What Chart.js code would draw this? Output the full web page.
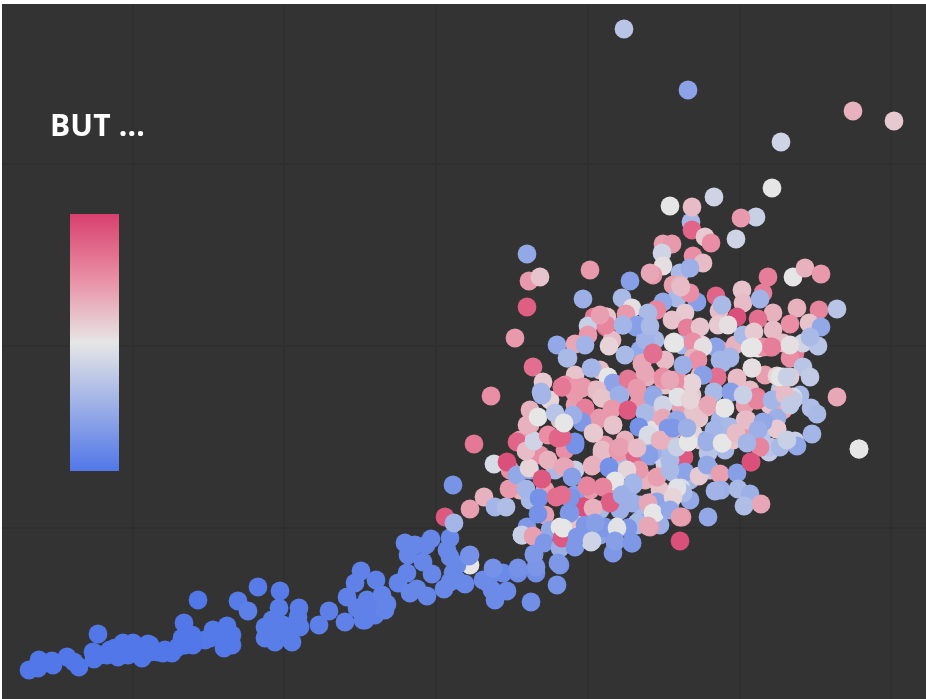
<!DOCTYPE html>
<html>
<head>
<meta charset="utf-8">
<script src="https://cdn.jsdelivr.net/npm/chart.js@4"></script>
<style>
  html, body { margin: 0; padding: 0; background: #fff; overflow: hidden; }
  #panel { position: absolute; left: 2px; top: 4px; width: 924px; height: 695px; background: #333; }
  #headline { position: absolute; left: 48px; top: 100px; color: #fff; font: bold 30px "Open Sans", sans-serif; letter-spacing: 0.2px; }
  #colorbar { position: absolute; left: 68px; top: 210px; width: 49px; height: 257px;
    background: linear-gradient(to bottom, #d8406f, #e98ea4 25%, #e6e6e6 50%, #5177e8); }
</style>
</head>
<body>
<div id="panel">
  <canvas id="scatter" width="924" height="695"></canvas>
  <div id="headline">BUT ...</div>
  <div id="colorbar"></div>
</div>
<script>
// Grid positions, the picture has no tick labels
const xTicks = [131, 282, 434, 586, 738, 889];
const yTicks = [171, 353, 535];

// Each point is [x, y, level], level runs 0 (blue) to 100 (pink)
const tailPoints = [
  [108,49,0],[123,49,0],[138,49,0],[98,44,0],[148,54,0],[163,49,0],[183,54,0],[203,59,1],[218,67,1],[268,69,3],
  [283,64,3],[358,89,5],[373,94,6],[363,79,5],
  [27,29,0],[37,39,0],[36,31,0],[50,38,0],[51,34,0],[65,42,0],[77,32,0],[72,37,0],[92,40,0],[91,47,0],
  [96,65,0],[105,44,0],[113,51,0],[116,42,0],[121,56,0],[126,44,0],[131,56,0],[131,47,0],[140,41,0],[146,55,0],
  [148,47,0],[156,47,0],[161,46,0],[170,46,0],[176,52,0],[182,76,0],[180,61,0],[190,64,0],[191,54,0],[196,99,0],
  [208,61,1],[211,69,1],[222,51,1],[225,73,1],[230,64,1],[230,54,1],[236,98,2],[246,88,4],[256,112,2],[278,108,2],
  [277,91,3],[297,91,3],[263,72,3],[270,79,3],[281,74,3],[263,61,3],[273,57,3],[290,57,3],[298,72,3],[296,82,3],
  [288,67,3],[276,67,3],[317,74,4],[327,88,4],[343,77,5],[345,102,5],[353,116,5],[359,128,5],[355,91,5],[361,79,5],
  [365,99,5],[374,119,5],[373,84,5],[370,92,5],[383,89,6],[380,104,6],[385,95,6],[396,116,6],[405,126,6],[408,106,7],
  [415,110,7],[425,103,7],[430,125,7],[421,137,7],[406,144,7],[403,156,7],[413,154,7],[424,154,7],[429,160,7],[468,134,50],
  [445,149,8],[448,161,8],[448,142,8],[455,134,8],[468,144,14],[443,182,92],[452,176,28],[442,110,8],[455,119,8],[448,117,8],
  [463,115,8],[451,126,8],[486,116,9],[493,99,9],[491,126,9],[501,126,9],[505,108,9],[490,109,9],[516,126,10],[534,126,11],
  [529,97,11],[532,144,14],[481,119,9],[451,214,13],[555,114,13],[558,134,13]
];

const backCluster = [
  [518,259,70],[508,229,75],[518,209,65],[528,199,30],[543,209,70],[553,229,30],[563,249,75],[573,229,40],[558,279,62],[573,294,70],
  [588,279,60],[603,254,72],[588,209,72],[573,204,18],[598,189,30],[618,189,25],[638,179,22],[653,219,30],[663,234,60],[643,219,65],
  [618,234,30],[623,259,65],[648,284,62],[618,309,68],[598,304,70],[638,299,25],[663,314,60],[678,309,30],[698,289,65],[718,279,28],
  [733,269,55],[698,259,60],[678,244,70],[688,219,28],[708,229,35],[723,249,30],[743,294,70],[698,324,65],[718,349,70],[733,354,65],
  [653,359,30],[663,339,62],[638,349,22],[623,344,30],[598,329,62],[573,324,60],[548,299,55],[563,314,75],[528,274,68],[538,244,75],
  [528,229,20],[543,184,70],[548,169,22],[573,179,60],[598,164,20],[638,194,30],[658,174,25],[768,294,60],[763,324,70],[748,309,62],
  [778,309,35],[798,304,30]
];

const lowerCluster = [
  [467,143,12],[491,131,12],[516,131,12],[534,132,14],[520,164,52],[525,172,15],[520,164,40],[531,163,70],[542,156,15],[558,172,50],
  [558,151,25],[560,161,92],[532,145,15],[556,136,15],[573,152,15],[569,201,12],[567,186,15],[581,192,95],[585,213,78],[590,233,65],
  [607,231,12],[613,218,50],[604,211,75],[608,196,88],[620,204,27],[630,196,25],[600,249,62],[592,266,58],[583,291,80],[580,277,15],
  [573,283,25],[597,281,72],[600,301,60],[611,274,60],[626,289,92],[637,272,12],[617,247,72],[633,244,88],[648,243,18],[637,229,72],
  [628,229,55],[631,214,28],[651,197,22],[590,177,18],[603,171,15],[583,174,15],[589,157,42],[613,157,20],[611,146,15],[626,171,15],
  [635,174,30],[646,173,68],[630,156,12],[615,172,48],[636,294,70],[616,304,22],[651,302,22],[573,306,72],[472,255,82],[492,235,45],
  [505,237,95],[515,257,88],[468,190,70],[482,202,65],[493,192,28],[504,192,32],[507,210,72],[515,224,22],[524,210,28],[527,231,55],
  [524,248,62],[532,258,42],[528,289,65],[525,274,65],[536,282,50],[553,286,35],[540,304,28],[546,264,75],[556,261,88],[573,256,12],
  [540,220,92],[546,239,65],[561,232,68],[537,201,12],[554,202,85],[536,185,12]
];

const upperCluster = [
  [525,445,22],[527,418,72],[538,422,60],[525,392,90],[513,361,72],[588,429,72],[581,400,25],[650,425,70],[592,382,82],[604,382,60],
  [586,373,40],[604,372,85],[586,364,72],[555,354,22],[573,355,68],[583,354,27],[610,359,62],[607,353,55],[621,374,28],[634,372,18],
  [646,369,28],[643,359,27],[655,390,78],[566,341,30],[531,332,85],[589,331,28],[606,322,50],[611,316,20],[626,319,82],[651,346,85],
  [640,335,68],[645,322,65],[635,309,75],[541,317,58],[539,307,28],[560,312,80],[573,311,72],[581,312,72],[593,309,65],[601,304,62],
  [618,304,30],[651,304,22],[489,303,75],[628,418,18],[620,401,30],[630,391,52],[624,385,72],[661,455,70],[670,455,72],[660,446,42],
  [661,433,52],[691,443,75],[701,436,62],[678,426,30],[688,431,25],[651,424,72],[648,426,68],[671,414,70],[678,414,65],[675,401,30],
  [661,397,22],[695,397,18],[688,406,75],[714,403,88],[717,388,62],[720,394,30],[740,409,60],[741,396,62],[735,382,95],[655,389,78],
  [683,386,58],[670,379,60],[646,386,30],[635,374,18],[648,373,30],[685,371,80],[605,382,60],[604,374,78],[598,384,70],[716,374,58],
  [698,372,60],[621,374,28],[689,477,30],[690,469,88],[703,462,58],[709,456,75],[734,460,42],[679,412,62],[766,422,80],[791,422,50],
  [803,431,65],[819,425,72],[761,406,80],[758,400,27],[771,386,65],[795,391,65],[817,389,78],[835,390,35],[788,375,75],[807,376,60],
  [819,372,22],[756,380,85],[741,364,30],[771,369,62],[752,367,58],[726,374,52],[672,357,48],[680,354,28],[691,340,68],[700,354,55],
  [714,352,22],[728,342,28],[720,336,28],[750,331,52],[715,322,85],[735,320,62],[690,316,55],[748,351,50],[756,351,50],[768,352,82],
  [761,352,75],[781,356,62],[793,346,80],[788,341,75],[801,356,42],[816,353,35],[808,362,30],[801,332,35],[775,323,55],[781,322,42],
  [788,322,58],[808,322,38],[835,302,68],[780,306,62],[791,302,45],[755,302,80],[729,307,18],[712,307,30],[701,324,15],[676,304,50],
  [690,304,58],[651,304,20],[661,319,72],[673,319,78]
];

const middleCluster = [
  [644,256,60],[661,241,42],[648,256,30],[671,269,65],[660,259,65],[658,278,70],[678,294,70],[691,286,60],[697,281,58],[705,292,65],
  [678,282,22],[691,266,55],[722,291,50],[728,272,30],[713,269,28],[731,259,60],[720,256,50],[706,246,35],[705,259,22],[686,257,50],
  [667,271,15],[695,281,60],[682,242,92],[668,239,28],[670,227,30],[683,227,20],[697,223,58],[705,234,22],[718,225,70],[735,226,18],
  [719,209,25],[713,208,27],[736,210,30],[748,205,26],[742,193,32],[759,195,68],[679,211,45],[688,199,22],[681,206,30],[668,194,20],
  [680,182,72],[706,182,22],[655,197,22],[661,202,55],[653,186,50],[648,172,70],[658,209,60],[655,222,70],[651,247,25],
  [668,251,30],[661,259,65],[648,269,52],[658,286,65],[678,294,70],[691,286,60],[791,299,38],[809,291,32],[815,285,30],[810,265,28],
  [775,270,58],[793,258,40],[795,253,22],[767,247,38],[759,252,80],[749,237,95],[755,299,78],[771,299,28],[781,289,68],[775,281,25],
  [763,276,22],[760,266,35],[743,279,60],[746,269,72],[857,250,50]
];

const frontCluster = [
  [573,254,12],[600,246,62],[616,249,72],[633,244,88],[647,244,18],[563,232,68],[591,234,65],[607,232,12],[637,229,72],[625,229,55],
  [668,239,30],[668,229,30],[613,218,50],[585,213,78],[601,212,78],[570,222,18],[631,216,28],[608,197,90],[581,192,95],[591,191,65],
  [620,204,25],[629,197,25],[655,197,20],[675,211,48],[646,196,68],[671,202,55],[568,201,14],[568,186,15],[560,204,85],[651,186,50],
  [635,176,30],[646,173,68],[626,171,15],[603,172,15],[585,174,15],[593,176,18],[615,171,48],[561,171,50],[575,162,15],[590,158,42],
  [613,158,18],[630,156,15],[678,158,95],[668,189,22],[678,182,70],
  [565,341,30],[590,331,28],[606,322,50],[611,316,20],[626,320,82],[640,336,68],[651,345,85],[671,356,52],[643,326,68],[661,322,75],
  [678,317,72],[571,309,72],[580,311,72],[560,312,82],[595,309,62],[600,301,60],[617,304,25],[635,311,72],[638,302,72],[651,302,22],
  [583,290,80],[597,280,72],[610,290,72],[626,289,92],[643,286,30],[661,294,42],[661,281,68],[637,272,12],[646,264,45],[666,271,15],
  [611,274,60],[580,277,15],[571,284,25],[591,266,58],[573,257,12],[560,262,88],[618,252,70],[635,251,62],[675,252,40],[658,259,65],
  [562,276,50],
  [673,356,50],[691,357,75],[713,352,20],[701,352,52],[728,341,28],[718,339,28],[691,341,65],[696,339,75],[751,352,50],[770,352,80],
  [788,354,52],[750,331,52],[715,322,85],[701,324,18],[681,334,25],[735,321,62],[690,316,55],[673,317,75],[668,319,68],[712,307,30],
  [729,307,18],[755,299,78],[770,299,28],[778,322,50],[785,322,40],[676,302,48],[688,299,55],[741,304,40],[706,294,68],[723,291,50],
  [783,304,62],[788,294,38],[745,279,62],[693,281,60],[675,279,22],[727,272,30],[712,269,28],[775,270,58],[761,277,22],[686,257,50],
  [705,257,25],[720,256,50],[734,266,62],[671,271,15],[685,271,25],[756,269,25],[768,252,35],[758,252,78],[778,252,30],[785,259,40],
  [745,256,28],[857,250,50],[749,237,95]
];

const outlierPoints = [
  [622,670,35],[686,609,20],[851,588,65],[892,578,58],[779,557,42],[770,511,50],[712,502,42],[668,493,50],[690,492,62],[754,482,40],[739,481,72]
];

// Same blue, pale, pink ramp as the colour bar
const rampLevels = [0, 50, 75, 100];
const rampStops = [[81, 119, 232], [230, 230, 230], [233, 142, 164], [216, 64, 111]];

function levelColor(level) {
  let i = 0;
  while (i < rampLevels.length - 2 && level > rampLevels[i + 1]) i++;
  const f = (level - rampLevels[i]) / (rampLevels[i + 1] - rampLevels[i]);
  const c = rampStops[i].map((v, k) => Math.round(v + (rampStops[i + 1][k] - v) * f));
  return `rgb(${c[0]},${c[1]},${c[2]})`;
}

const allPoints = [...tailPoints, ...backCluster, ...lowerCluster, ...upperCluster, ...middleCluster, ...frontCluster, ...outlierPoints];

new Chart(document.getElementById("scatter"), {
  type: "scatter",
  data: {
    datasets: [{
      data: allPoints.map(p => ({ x: p[0], y: p[1] })),
      backgroundColor: allPoints.map(p => levelColor(p[2])),
      borderWidth: 0,
      pointRadius: 9.4
    }]
  },
  options: {
    responsive: false,
    animation: false,
    layout: { padding: 0, autoPadding: false },
    plugins: { legend: { display: false }, tooltip: { enabled: false } },
    scales: {
      x: {
        min: 0, max: 924,
        afterBuildTicks: axis => { axis.ticks = xTicks.map(v => ({ value: v })); },
        ticks: { display: false },
        grid: { color: "#2f2f2f", lineWidth: 2, drawTicks: false },
        border: { display: false }
      },
      y: {
        min: 0, max: 695,
        afterBuildTicks: axis => { axis.ticks = yTicks.map(v => ({ value: v })); },
        ticks: { display: false },
        grid: { color: "#2f2f2f", lineWidth: 2, drawTicks: false },
        border: { display: false }
      }
    }
  }
});
</script>
</body>
</html>
